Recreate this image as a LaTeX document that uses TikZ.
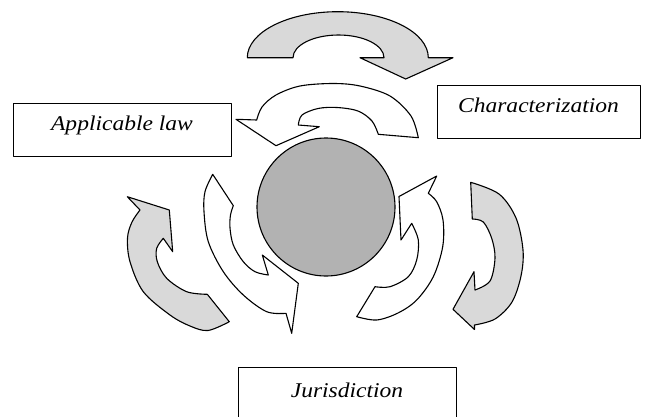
\documentclass[tikz,border=0pt]{standalone}
\usepackage{fontspec}
\setmainfont{Liberation Serif}[FakeStretch=1.12]
\definecolor{arrgray}{HTML}{D9D9D9}
\definecolor{ballgray}{HTML}{B2B2B2}
\begin{document}
\begin{tikzpicture}[x=1pt,y=-1pt,line join=round,
  outline/.style={draw=black,line width=1.1pt},
  grayarr/.style={outline,fill=arrgray},
  whitearr/.style={outline,fill=white},
  labelbox/.style={draw=black,line width=1pt,rectangle,inner sep=0pt,
    font=\fontsize{21}{24}\selectfont\itshape,text height=9pt,text depth=7pt},
  crv/.style={smooth,tension=0.55}]
\clip (0,0) rectangle (654,416);
\fill[white] (0,0) rectangle (654,416);

% boxes
\node[labelbox,minimum width=218pt,minimum height=53pt] (applaw) at (122,129.5) {Applicable law};
\node[labelbox,minimum width=203pt,minimum height=53pt] (charact) at (538.5,111.5) {Characterization};
\node[labelbox,minimum width=218pt,minimum height=62pt,text height=7pt,text depth=9pt] (jurisd) at (347,398) {Jurisdiction};

% central ball
\node[circle,draw=black,line width=1.1pt,fill=ballgray,minimum size=138pt,inner sep=0pt] (ball) at (326,207) {};

% top gray arrow
\filldraw[grayarr] (247.3,57.7) arc[start angle=180,end angle=360,x radius=90.5,y radius=46]
  -- (453,57.7) -- (405.7,79) -- (360,57.7) -- (384,57.7)
  arc[start angle=360,end angle=180,x radius=45.5,y radius=22.7] -- cycle;

% top white arrow
\filldraw[whitearr] (418.3,137.7)
  -- plot[crv] coordinates {(418.3,137.7) (411,116) (390,96) (360,86) (333,83.5) (300,86) (276,95) (262,107) (256.7,120)}
  -- (236,119.3) -- (276,145.7) -- (319.3,126.7) -- (298.3,125)
  -- plot[crv] coordinates {(298.3,125) (302,115) (318,108.5) (337,107.5) (358,111) (372,121) (378.3,134.3)}
  -- cycle;

% left gray arrow
\filldraw[grayarr] (127.3,196.7) -- (140,210)
  -- plot[crv] coordinates {(140,210) (132,222) (127.5,238) (130,261.7) (143.3,291.7) (170,315) (190,326) (208,330.5) (229.3,321.7)}
  -- (207.3,294.3)
  -- plot[crv] coordinates {(207.3,294.3) (186.7,291.7) (166.7,278.3) (157.3,261.7) (156.7,248.3) (163.3,238.3)}
  -- (172.7,251.7) -- (169.3,210) -- cycle;

% left white arrow
\filldraw[whitearr] (212.7,174.3) -- (233.3,205.7)
  -- plot[crv] coordinates {(233.3,205.7) (230.5,215) (230,228) (233.3,245) (243.3,261.7) (255,271.7) (268.3,275)}
  -- (262.3,255) -- (298.3,283.3) -- (291.7,333.3) -- (286,313.3)
  -- plot[crv] coordinates {(286,313.3) (266.7,311.7) (243.3,295) (223.3,271.7) (208.3,241.7) (204,211.7) (205,191.7) (212.7,174.3)}
  -- cycle;

% right white arrow
\filldraw[whitearr] (436.7,176) -- (428.3,193.3)
  -- plot[crv] coordinates {(428.3,193.3) (436.7,201.7) (443,220) (442.7,246.7) (433.3,276.7) (416.7,300) (398,313) (376.7,320) (356.7,316.7)}
  -- (375,286.7)
  -- plot[crv] coordinates {(375,286.7) (390,286.7) (408.3,276.7) (416.7,260) (418.3,240) (411.7,223.3)}
  -- (401,240) -- (399,196.5) -- cycle;

% right gray arrow
\filldraw[grayarr] (470.7,182.3) -- (472.3,219)
  -- plot[crv] coordinates {(472.3,219) (483.3,222) (491.7,238.3) (495,258) (490,281) (475,290)}
  -- (474,271.7) -- (453,309.3) -- (474.5,329.5) -- (474.5,325)
  -- plot[crv] coordinates {(474.5,325) (495,319) (512,302) (521,276) (523,250) (516,218) (499,194) (470.7,182.3)}
  -- cycle;
\end{tikzpicture}
\end{document}
